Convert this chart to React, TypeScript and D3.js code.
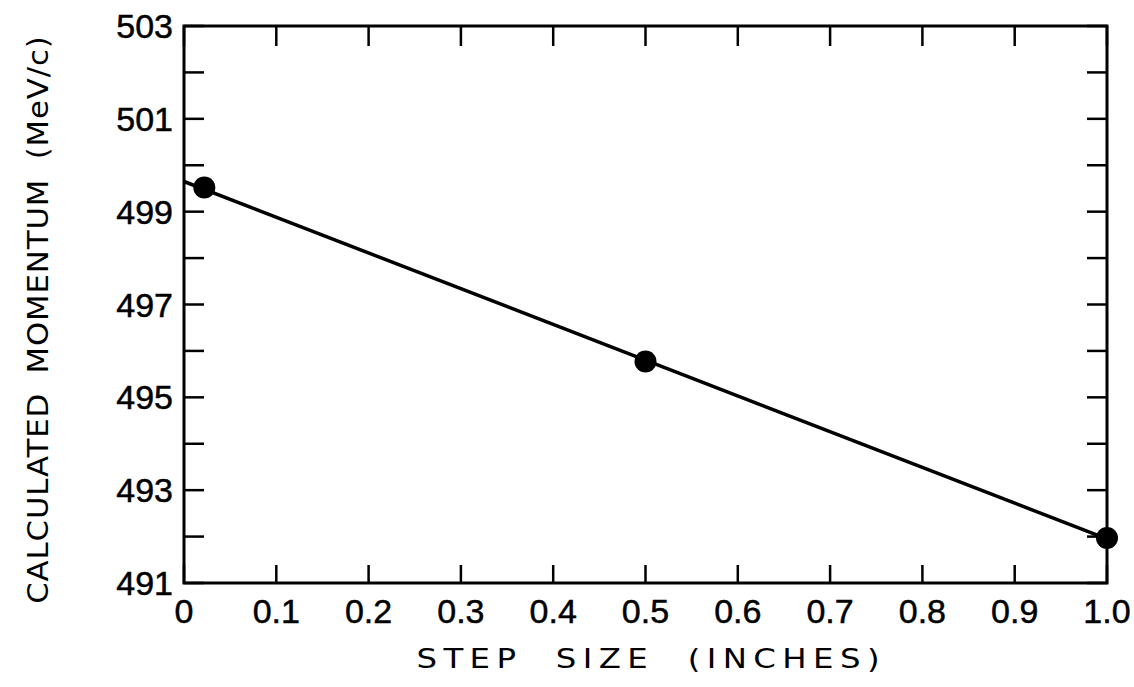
import * as d3 from "d3";

// measured points
const stepSizes = [0.022, 0.5, 1.0];
const momenta = [499.52, 495.77, 491.97];

// straight fit line through the points
const fitStep = [0, 1.0];
const fitMomentum = [499.65, 491.95];

const xTickValues = [0, 0.1, 0.2, 0.3, 0.4, 0.5, 0.6, 0.7, 0.8, 0.9, 1.0];
const xTickLabels = ["0", "0.1", "0.2", "0.3", "0.4", "0.5", "0.6", "0.7", "0.8", "0.9", "1.0"];
const yTickValues = [491, 492, 493, 494, 495, 496, 497, 498, 499, 500, 501, 502, 503];
const yLabelValues = [491, 493, 495, 497, 499, 501, 503];

const xTitle = "STEP SIZE (INCHES)";
const yTitle = "CALCULATED MOMENTUM (MeV/c)";

const width = 1134;
const height = 687;
const margin = { top: 26, right: 27, bottom: 104, left: 184 };
const font = "'Liberation Sans', Arial, Helvetica, sans-serif";
const titleFont = "'DejaVu Sans', 'Liberation Sans', sans-serif";

export default function App() {
  const xScale = d3
    .scaleLinear()
    .domain([0, 1])
    .range([margin.left, width - margin.right]);

  const yScale = d3
    .scaleLinear()
    .domain([491, 503])
    .range([height - margin.bottom, margin.top]);

  const x0 = xScale.range()[0];
  const x1 = xScale.range()[1];
  const y0 = yScale.range()[0];
  const y1 = yScale.range()[1];

  const fitData = fitStep.map((s, i) => ({ s, m: fitMomentum[i] }));
  const points = stepSizes.map((s, i) => ({ s, m: momenta[i] }));

  const lineGenerator = d3
    .line<{ s: number; m: number }>()
    .x((d) => xScale(d.s))
    .y((d) => yScale(d.m));

  const tickLen = 20;

  return (
    <svg
      width={width}
      height={height}
      style={{ position: "absolute", left: 0, top: 0, background: "#fff" }}
    >
      {/* frame */}
      <rect
        x={x0}
        y={y1}
        width={x1 - x0}
        height={y0 - y1}
        fill="none"
        stroke="#000"
        strokeWidth={3}
      />

      {/* x ticks, bottom and top */}
      {xTickValues.map((t, i) => (
        <g key={i}>
          <line x1={xScale(t)} x2={xScale(t)} y1={y0} y2={y0 - 18} stroke="#000" strokeWidth={2.5} />
          <line x1={xScale(t)} x2={xScale(t)} y1={y1} y2={y1 + tickLen} stroke="#000" strokeWidth={2.5} />
          <text
            x={xScale(t)}
            y={623}
            textAnchor="middle"
            fontFamily={font}
            fontSize={34}
            fill="#000"
            stroke="#000"
            strokeWidth={0.5}
          >
            {xTickLabels[i]}
          </text>
        </g>
      ))}

      {/* y ticks, left and right */}
      {yTickValues.map((t, i) => (
        <g key={i}>
          <line x1={x0} x2={x0 + tickLen} y1={yScale(t)} y2={yScale(t)} stroke="#000" strokeWidth={2.5} />
          <line x1={x1} x2={x1 - tickLen} y1={yScale(t)} y2={yScale(t)} stroke="#000" strokeWidth={2.5} />
        </g>
      ))}
      {yLabelValues.map((t, i) => (
        <text
          key={i}
          x={173}
          y={yScale(t) + 12}
          textAnchor="end"
          fontFamily={font}
          fontSize={34}
          fill="#000"
          stroke="#000"
          strokeWidth={0.5}
        >
          {t}
        </text>
      ))}

      {/* fit line */}
      <path
        d={lineGenerator(fitData) ?? ""}
        fill="none"
        stroke="#000"
        strokeWidth={3.5}
      />

      {/* points */}
      {points.map((p, i) => (
        <circle key={i} cx={xScale(p.s)} cy={yScale(p.m)} r={11} fill="#000" />
      ))}

      {/* axis titles */}
      <text
        transform="translate(648,668) scale(1.2,1)"
        textAnchor="middle"
        fontFamily={titleFont}
        fontSize={27}
        textLength={386}
        lengthAdjust="spacing"
        fill="#000"
        style={{ wordSpacing: "14px" }}
      >
        {xTitle}
      </text>
      <text
        transform="translate(48,320) rotate(-90) scale(1.1,1)"
        textAnchor="middle"
        fontFamily={titleFont}
        fontSize={28}
        textLength={516}
        lengthAdjust="spacing"
        fill="#000"
        style={{ wordSpacing: "8px" }}
      >
        {yTitle}
      </text>
    </svg>
  );
}
